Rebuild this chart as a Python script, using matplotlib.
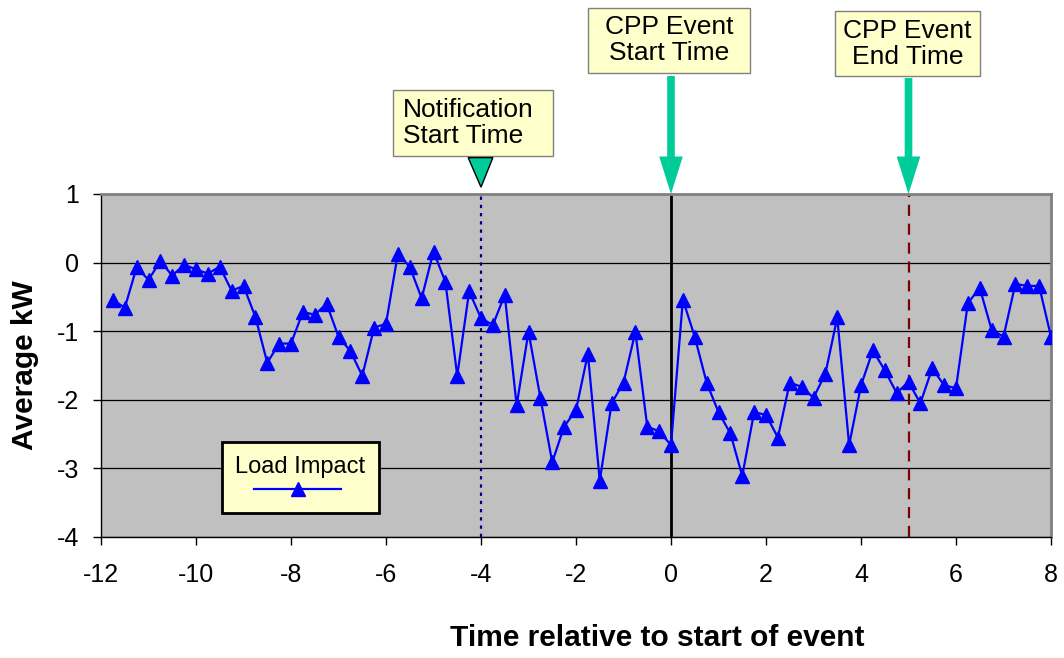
import matplotlib
matplotlib.use("Agg")
import matplotlib.pyplot as plt
import numpy as np
from matplotlib.patches import Rectangle, Polygon

plt.rcParams["font.family"] = ["Liberation Sans", "DejaVu Sans"]
plt.rcParams["axes.unicode_minus"] = False

# 15-minute intervals relative to event start (hours)
hours = np.arange(-11.75, 8.01, 0.25)
load_impact = [
    -0.54, -0.66, -0.07, -0.25, 0.02, -0.19, -0.03, -0.10,
    -0.16, -0.06, -0.41, -0.34, -0.79, -1.46, -1.18, -1.18,
    -0.72, -0.76, -0.60, -1.08, -1.29, -1.65, -0.95, -0.89,
    0.13, -0.06, -0.52, 0.16, -0.28, -1.65, -0.42, -0.81,
    -0.91, -0.47, -2.08, -1.01, -1.97, -2.91, -2.39, -2.15,
    -1.33, -3.18, -2.05, -1.75, -1.01, -2.39, -2.46, -2.66,
    -0.54, -1.08, -1.75, -2.18, -2.49, -3.11, -2.18, -2.22,
    -2.55, -1.75, -1.81, -1.97, -1.62, -0.80, -2.66, -1.79,
    -1.28, -1.57, -1.90, -1.74, -2.05, -1.54, -1.79, -1.83,
    -0.59, -0.37, -0.98, -1.08, -0.31, -0.34, -0.34, -1.08,
]
notify_time = -4
event_start = 0
event_end = 5
x_ticks = list(range(-12, 9, 2))
y_ticks = list(range(-4, 2))

teal = "#00CC99"
note_fill = "#FFFFCC"

fig = plt.figure(figsize=(10.64, 6.58), dpi=100)
ax = fig.add_axes([101 / 1064, 121 / 658, 950 / 1064, 343 / 658])
ax.set_facecolor("#C0C0C0")
ax.set_xlim(-12, 8)
ax.set_ylim(-4, 1)
ax.set_xticks(x_ticks)
ax.set_yticks(y_ticks)
ax.tick_params(axis="both", labelsize=18, length=6, width=1, color="black")
ax.tick_params(axis="x", pad=13)
ax.tick_params(axis="y", pad=10)
ax.grid(axis="y", color="black", lw=0.9)
ax.set_axisbelow(True)
for side in ("top", "right"):
    ax.spines[side].set_color("#808080")
    ax.spines[side].set_linewidth(2)
for side in ("left", "bottom"):
    ax.spines[side].set_color("black")
    ax.spines[side].set_linewidth(1)

# event markers
ax.axvline(notify_time, color="#000080", lw=1.6, ls=(0, (1.5, 2.2)), zorder=2)
ax.axvline(event_start, color="black", lw=2, zorder=2)
ax.axvline(event_end, color="#800000", lw=1.6, ls=(0, (5, 3.5)), zorder=2)

ax.plot(hours, load_impact, color="#0000FF", lw=1.6, marker="^", ms=9.5,
        mec="#0000FF", mfc="#0000FF", label=" ", zorder=3)

leg = ax.legend(title="Load Impact", loc="lower left",
                bbox_to_anchor=(0.127, 0.07), borderaxespad=0,
                fancybox=False, shadow=False,
                framealpha=1, facecolor=note_fill, edgecolor="black",
                handlelength=4.5, handletextpad=0, fontsize=14,
                title_fontsize=17, borderpad=0.7, labelspacing=0.2)
leg.get_frame().set_linewidth(2)

# callout boxes above the plot
ax.add_patch(Rectangle((-5.85, 1.56), 3.37, 0.96, facecolor=note_fill,
                       edgecolor="#808080", lw=1, clip_on=False))
ax.text(-5.64, 2.04, "Notification\nStart Time", ha="left", va="center",
        fontsize=19, linespacing=1.12, clip_on=False)
ax.add_patch(Polygon([(-4.27, 1.53), (-3.75, 1.53), (-4.0, 1.1)],
                     closed=True, facecolor=teal, edgecolor="black", lw=1,
                     clip_on=False))

ax.add_patch(Rectangle((-1.75, 2.77), 3.41, 0.94, facecolor=note_fill,
                       edgecolor="#808080", lw=1, clip_on=False))
ax.text(-0.04, 3.24, "CPP Event\nStart Time", ha="center", va="center",
        fontsize=19, linespacing=1.12, clip_on=False)

ax.add_patch(Rectangle((3.45, 2.72), 3.06, 0.95, facecolor=note_fill,
                       edgecolor="#808080", lw=1, clip_on=False))
ax.text(4.98, 3.19, "CPP Event\nEnd Time", ha="center", va="center",
        fontsize=19, linespacing=1.12, clip_on=False)

arrow_style = "simple,head_length=27,head_width=17,tail_width=5.5"
for x0, y0 in ((event_start, 2.72), (event_end, 2.69)):
    ax.annotate("", xy=(x0, 1.0), xytext=(x0, y0),
                arrowprops=dict(arrowstyle=arrow_style, mutation_scale=1,
                                color=teal, lw=0, shrinkA=0, shrinkB=0),
                annotation_clip=False)

fig.text(657 / 1064, 1 - 638 / 658, "Time relative to start of event",
         ha="center", va="center", fontsize=21.5, fontweight="bold")
fig.text(25 / 1064, 1 - 365 / 658, "Average kW", ha="center", va="center",
         rotation=90, fontsize=21.5, fontweight="bold")

fig.savefig("out.png", dpi=100)
